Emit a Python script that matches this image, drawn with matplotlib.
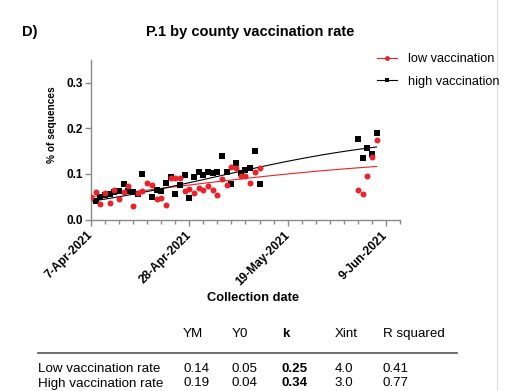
import numpy as np
import pandas as pd
import matplotlib
matplotlib.use("Agg")
import matplotlib.pyplot as plt
import matplotlib.dates as mdates
from matplotlib.lines import Line2D

plt.rcParams['font.family'] = ['Liberation Sans', 'DejaVu Sans']

# ---- data ----
start = pd.Timestamp('2021-04-07')

low_days = [0, 1, 2, 3, 4, 5, 6, 7, 8, 9, 10, 11, 12, 13, 14, 15, 16, 17, 18,
            19, 20, 21, 22, 23, 24, 25, 26, 27, 28, 29, 30, 31, 32, 33, 34,
            35, 36, 57, 58, 59, 60, 61]
low_vals = [0.050, 0.060, 0.034, 0.059, 0.037, 0.065, 0.045, 0.061, 0.074,
            0.030, 0.058, 0.062, 0.080, 0.075, 0.044, 0.048, 0.032, 0.091,
            0.091, 0.091, 0.063, 0.068, 0.059, 0.069, 0.065, 0.074, 0.065,
            0.054, 0.089, 0.076, 0.115, 0.113, 0.095, 0.095, 0.080, 0.104,
            0.112, 0.065, 0.057, 0.095, 0.137, 0.175]

high_days = [1, 2, 3, 4, 5, 6, 7, 8, 9, 10, 11, 13, 14, 15, 16, 17, 18, 19,
             20, 21, 22, 23, 24, 25, 26, 27, 28, 29, 30, 31, 32, 33, 34, 35,
             36, 57, 58, 59, 60, 61]
high_vals = [0.040, 0.050, 0.054, 0.056, 0.060, 0.063, 0.078, 0.063, 0.060,
             0.057, 0.100, 0.049, 0.065, 0.063, 0.079, 0.093, 0.057, 0.076,
             0.098, 0.047, 0.093, 0.105, 0.097, 0.104, 0.103, 0.104, 0.140,
             0.104, 0.078, 0.125, 0.103, 0.108, 0.114, 0.151, 0.078, 0.177,
             0.134, 0.157, 0.144, 0.189]

# logistic fit parameters (from the table)
rows = ['Low vaccination rate', 'High vaccination rate']
YM = [0.14, 0.19]
Y0 = [0.05, 0.04]
K = [0.25, 0.34]
XINT = [4.0, 3.0]
RSQ = [0.41, 0.77]

major_dates = ['2021-04-07', '2021-04-28', '2021-05-19', '2021-06-09']
major_labels = ['7-Apr-2021', '28-Apr-2021', '19-May-2021', '9-Jun-2021']

red = '#e8232b'
axis_grey = '#8a8a8a'
W, H = 506.0, 391.0

fig = plt.figure(figsize=(5.06, 3.91), dpi=100)
ax = fig.add_axes([0.1798, 0.4386, 0.6107, 0.408])


def to_dates(days):
    return start + pd.to_timedelta(days, unit='D')


# fit curves
fit_days = np.linspace(0, 61, 120)
for ym, y0, k, c in [(YM[0], Y0[0], K[0], red), (YM[1], Y0[1], K[1], 'black')]:
    w = fit_days / 7.0
    y = ym * y0 / ((ym - y0) * np.exp(-k * w) + y0)
    ax.plot(to_dates(fit_days), y, color=c, lw=0.8, zorder=2)

ax.plot(to_dates(high_days), high_vals, 's', color='black', ms=4.0,
        mew=0, zorder=3)
ax.plot(to_dates(low_days), low_vals, 'o', color=red, ms=4.3,
        mew=0, zorder=4)

ax.set_xlim(start, pd.Timestamp('2021-06-12'))
ax.set_ylim(0, 0.35)

for s in ['top', 'right']:
    ax.spines[s].set_visible(False)
for s in ['left', 'bottom']:
    ax.spines[s].set_color(axis_grey)
    ax.spines[s].set_linewidth(1.0)

ax.set_yticks([0.0, 0.1, 0.2, 0.3])
ax.set_yticklabels(['0.0', '0.1', '0.2', '0.3'], fontweight='bold', fontsize=8.5)
ax.set_xticks(mdates.date2num(pd.to_datetime(major_dates)))
ax.set_xticklabels(major_labels, rotation=45, ha='right', va='center',
                   rotation_mode='anchor', fontweight='bold', fontsize=8.6)
minor = pd.date_range('2021-04-07', '2021-06-12', freq='3D')
ax.set_xticks(mdates.date2num(minor), minor=True)
ax.tick_params(axis='both', which='major', length=4, width=1.0,
               color=axis_grey, pad=2)
ax.tick_params(axis='x', which='major', pad=6)
ax.tick_params(axis='x', which='minor', length=3, width=1.0, color=axis_grey)

ax.set_ylabel('% of sequences', fontweight='bold', fontsize=7.3)
ax.yaxis.set_label_coords((57 - 91) / 309.0, (219.5 - 125) / 159.5)
ax.set_xlabel('Collection date', fontweight='bold', fontsize=9.3)
ax.xaxis.set_label_coords((253.5 - 91) / 309.0, (219.5 - 292) / 159.5)

fig.text(250 / W, 1 - 32 / H, 'P.1 by county vaccination rate', ha='center',
         va='center', fontweight='bold', fontsize=10.5)
fig.text(22 / W, 1 - 32 / H, 'D)', ha='left', va='center', fontweight='bold',
         fontsize=10.5)

handles = [Line2D([], [], color=red, marker='o', ms=3.5, lw=0.8, mew=0),
           Line2D([], [], color='black', marker='s', ms=3.2, lw=0.8, mew=0)]
fig.legend(handles, ['low vaccination', 'high vaccination'],
           loc='upper left', bbox_to_anchor=(377 / W, 1 - 53 / H),
           frameon=False, fontsize=9.2, handlelength=1.6, handletextpad=0.8,
           labelspacing=0.85, borderpad=0, borderaxespad=0)

# table of fit parameters
col_x = [183, 232, 282, 335, 383]
headers = ['YM', 'Y0', 'k', 'Xint', 'R squared']
tfs = 9.6
for x, h in zip(col_x, headers):
    fig.text(x / W, 1 - 334 / H, h, ha='left', va='center', fontsize=tfs,
             fontweight='bold' if h == 'k' else 'normal')
fig.add_artist(Line2D([38 / W, 457 / W], [1 - 352.5 / H, 1 - 352.5 / H],
                      color='#555555', lw=1.2))
for i, (name, row_y) in enumerate(zip(rows, [369, 383.5])):
    vals = ['%.2f' % YM[i], '%.2f' % Y0[i], '%.2f' % K[i], '%.1f' % XINT[i],
            '%.2f' % RSQ[i]]
    fig.text(38 / W, 1 - row_y / H, name, ha='left', va='center', fontsize=tfs)
    for j, (x, v) in enumerate(zip(col_x, vals)):
        fig.text(x / W, 1 - row_y / H, v, ha='left', va='center', fontsize=tfs,
                 fontweight='bold' if j == 2 else 'normal')

fig.add_artist(Line2D([497 / W, 497 / W], [0, 1], color='#dddddd', lw=0.8))

fig.savefig('out.png', dpi=100)
